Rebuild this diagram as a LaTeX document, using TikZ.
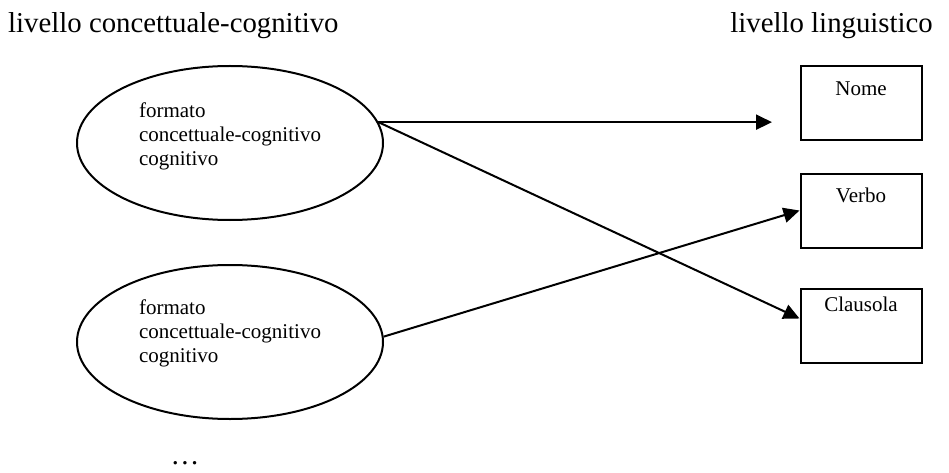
\documentclass[tikz,border=0pt]{standalone}
\usepackage{fontspec}
\setmainfont{Liberation Serif}
\usetikzlibrary{arrows.meta,shapes.geometric}
\newcommand{\livtxt}{\fontsize{28.8}{34}\selectfont}
\newcommand{\fmttxt}{\fontsize{21}{24}\selectfont}

\begin{document}
\begin{tikzpicture}[x=1pt,y=-1pt,
    formato/.style={ellipse,draw,line width=2pt,minimum width=306pt,minimum height=154pt,inner sep=0pt},
    livbox/.style={rectangle,draw,line width=2pt,minimum width=121pt,minimum height=74pt,inner sep=0pt},
    freccia/.style={line width=2pt,-{Triangle[length=16pt,width=15pt]}}]
    \useasboundingbox (0,0) rectangle (949,473);
    % intestazioni
    \node[anchor=base west,font=\livtxt,inner sep=0pt] (liv1) at (8,33) {livello concettuale-cognitivo};
    \node[anchor=base east,font=\livtxt,inner sep=0pt] (liv2) at (933,33) {livello linguistico};
    % livello concettuale
    \node[formato] (e1) at (230,143) {};
    \node[font=\fmttxt,align=left,inner sep=0pt] (t1) at ([yshift=7pt]e1.center) {formato\\concettuale-cognitivo\\cognitivo};
    \node[formato] (e2) at (230,342) {};
    \node[font=\fmttxt,align=left,inner sep=0pt] (t2) at ([yshift=9pt]e2.center) {formato\\concettuale-cognitivo\\cognitivo};
    \node[anchor=base,font=\livtxt,inner sep=0pt] (dots) at (185,464) {\ldots};
    % livello linguistico
    \node[livbox] (nome) at (861,103.5) {};
    \node[anchor=base,font=\fmttxt,inner sep=0pt] (nomelbl) at ([yshift=-30pt]nome.north) {Nome};
    \node[livbox] (verbo) at (861,210.5) {};
    \node[anchor=base,font=\fmttxt,inner sep=0pt] (verbolbl) at ([yshift=-30pt]verbo.north) {Verbo};
    \node[livbox] (claus) at (861,325.5) {};
    \node[anchor=base,font=\fmttxt,inner sep=0pt] (clauslbl) at ([yshift=-24pt]claus.north) {Clausola};
    % frecce
    \coordinate (a1end) at (772,123);
    \draw[freccia] (e1.8) -- (e1.8 -| a1end);
    \draw[freccia] (e1.8) -- ([yshift=7pt]claus.west);
    \draw[freccia] (e2.2) -- (verbo.west);
\end{tikzpicture}
\end{document}
